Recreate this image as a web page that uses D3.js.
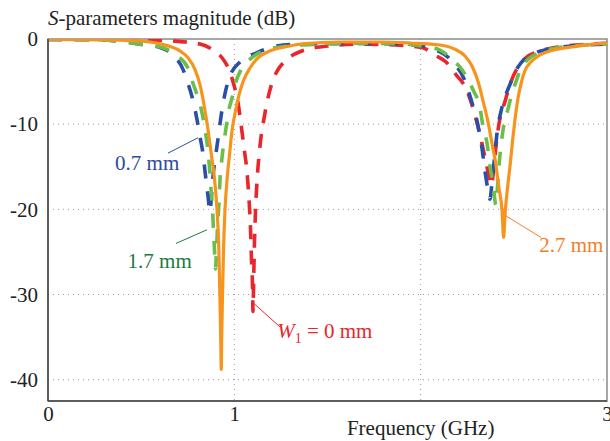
<!DOCTYPE html>
<html>
<head>
<meta charset="utf-8">
<script src="https://cdn.jsdelivr.net/npm/d3@7"></script>
<style>
body { margin: 0; background: #fff; }
text { font-family: "Liberation Serif", "Times New Roman", serif; }
</style>
</head>
<body>
<script>
var w = 610, h = 441;

// frequency (GHz) / magnitude (dB)
var redF  = [0, 0.279, 0.494, 0.682, 0.816, 0.886, 0.934, 0.971, 0.998, 1.020, 1.036, 1.052, 1.068, 1.079, 1.087, 1.092, 1.098, 1.100, 1.104, 1.108, 1.114, 1.124, 1.138, 1.162, 1.191, 1.224, 1.267, 1.352, 1.513, 1.675, 1.862, 2.007, 2.077, 2.136, 2.190, 2.243, 2.286, 2.324, 2.351, 2.370, 2.380, 2.391, 2.407, 2.426, 2.453, 2.485, 2.522, 2.565, 2.641, 2.748, 2.909, 3.0];
var redDb = [-0.05, -0.05, -0.1, -0.25, -0.6, -1.3, -2.2, -3.6, -5.4, -7.5, -10, -12.8, -15.6, -18.9, -22.4, -25.9, -29.4, -32, -28, -24, -20, -16, -12.5, -9, -6, -4, -2.7, -1.5, -0.8, -0.6, -0.7, -1.0, -1.9, -2.7, -4.2, -5.8, -8.5, -11.8, -14.5, -16.5, -17.2, -15.5, -12, -9.3, -7.3, -5, -3.3, -2.2, -1.4, -0.9, -0.6, -0.5];

var blueF  = [0, 0.279, 0.413, 0.494, 0.601, 0.671, 0.725, 0.751, 0.778, 0.800, 0.816, 0.832, 0.845, 0.859, 0.869, 0.877, 0.886, 0.899, 0.912, 0.934, 0.952, 0.974, 1.030, 1.122, 1.261, 1.352, 1.621, 1.889, 2.007, 2.077, 2.104, 2.168, 2.233, 2.276, 2.308, 2.329, 2.345, 2.362, 2.372, 2.383, 2.396, 2.410, 2.431, 2.458, 2.490, 2.522, 2.565, 2.619, 2.721, 2.855, 3.0];
var blueDb = [-0.05, -0.1, -0.35, -0.6, -1.0, -1.9, -3.6, -5.2, -7.2, -9.5, -11.5, -13.5, -16, -18.5, -20.3, -18.5, -16, -13.8, -11.8, -8.3, -6.2, -4.5, -2.7, -1.6, -0.7, -0.6, -0.53, -0.6, -0.8, -1.3, -1.5, -2.6, -4.7, -7.5, -10.2, -12.8, -15.5, -17.8, -18.8, -16.8, -14, -11, -8.5, -6.5, -4.8, -3.3, -2.2, -1.6, -1.05, -0.75, -0.6];

var greenF  = [0, 0.279, 0.413, 0.494, 0.612, 0.687, 0.751, 0.778, 0.805, 0.827, 0.843, 0.856, 0.867, 0.875, 0.883, 0.888, 0.894, 0.899, 0.904, 0.910, 0.918, 0.923, 0.931, 0.945, 0.955, 0.969, 0.988, 1.009, 1.036, 1.100, 1.170, 1.299, 1.460, 1.621, 1.889, 2.023, 2.104, 2.168, 2.222, 2.257, 2.286, 2.316, 2.335, 2.356, 2.372, 2.388, 2.404, 2.412, 2.420, 2.434, 2.447, 2.469, 2.485, 2.512, 2.539, 2.571, 2.624, 2.721, 2.855, 3.0];
var greenDb = [-0.05, -0.1, -0.35, -0.6, -1.0, -1.9, -3.4, -5.2, -6.9, -8.7, -10.7, -12.6, -15.2, -17.7, -20, -22.4, -25, -27, -25, -22, -19, -16.5, -14.5, -12, -10.5, -8.5, -6.9, -5.0, -3.6, -2.1, -1.3, -0.8, -0.6, -0.5, -0.55, -0.9, -1.3, -2.4, -3.6, -4.9, -6.2, -7.8, -10.3, -12.2, -14.9, -17, -19.5, -17.5, -15, -12, -10, -8.2, -6.8, -5, -3.4, -2.5, -1.7, -1.1, -0.75, -0.6];

var orangeF  = [0, 0.279, 0.440, 0.547, 0.655, 0.708, 0.751, 0.789, 0.816, 0.837, 0.859, 0.877, 0.894, 0.907, 0.917, 0.923, 0.927, 0.930, 0.932, 0.936, 0.942, 0.950, 0.961, 0.974, 0.988, 1.004, 1.025, 1.047, 1.084, 1.127, 1.181, 1.283, 1.379, 1.567, 1.782, 1.943, 2.104, 2.184, 2.238, 2.276, 2.308, 2.335, 2.362, 2.383, 2.402, 2.420, 2.437, 2.445, 2.453, 2.466, 2.480, 2.493, 2.506, 2.522, 2.539, 2.560, 2.592, 2.624, 2.694, 2.802, 2.909, 3.0];
var orangeDb = [-0.05, -0.1, -0.18, -0.35, -0.88, -1.4, -2.2, -3.6, -5.4, -7.7, -10.7, -13.6, -16.5, -20, -24.7, -30.6, -35.3, -38.8, -35.3, -30.6, -24.7, -20, -16.5, -13.6, -10.7, -8.7, -6.6, -5, -3.4, -2.2, -1.5, -0.88, -0.53, -0.35, -0.35, -0.47, -0.7, -1.2, -2.0, -3.2, -5, -7.3, -9.8, -12.3, -14.5, -17.5, -20.2, -23.3, -20.5, -17.5, -14.8, -12, -9.5, -7, -5.2, -3.7, -2.7, -2.1, -1.4, -0.95, -0.65, -0.45];

var xTicks = [0, 1, 3];
var yTicks = [0, -10, -20, -30, -40];
var gridX = [1, 2];
var gridY = [-10, -20, -30, -40];

var series = [
  { name: "red",    f: redF,    db: redDb,    color: "#e8262b", dash: "14,11", width: 3.6 },
  { name: "blue",   f: blueF,   db: blueDb,   color: "#2b4fa6", dash: "14,13", width: 3.6 },
  { name: "green",  f: greenF,  db: greenDb,  color: "#6abf4b", dash: "14,13", width: 3.6 },
  { name: "orange", f: orangeF, db: orangeDb, color: "#f7941d", dash: null,    width: 3.2 }
];

var x = d3.scaleLinear().domain([0, 3]).range([48, 607]);
var y = d3.scaleLinear().domain([-42.5, 0]).range([401, 39]);

var svg = d3.select("body").append("svg")
    .attr("width", w)
    .attr("height", h);

svg.append("defs").append("clipPath").attr("id", "plotclip")
  .append("rect")
    .attr("x", x(0)).attr("y", y(0))
    .attr("width", x(3) - x(0)).attr("height", y(-42.5) - y(0));

// grid
svg.append("g").selectAll("line").data(gridX).enter().append("line")
    .attr("x1", function(d){ return x(d); }).attr("x2", function(d){ return x(d); })
    .attr("y1", y(0)).attr("y2", y(-42.5))
    .attr("stroke", "#9a9a9a").attr("stroke-width", 1).attr("stroke-dasharray", "1,4");
svg.append("g").selectAll("line").data(gridY).enter().append("line")
    .attr("x1", x(0)).attr("x2", x(3))
    .attr("y1", function(d){ return y(d); }).attr("y2", function(d){ return y(d); })
    .attr("stroke", "#9a9a9a").attr("stroke-width", 1).attr("stroke-dasharray", "1,4");

// frame
svg.append("rect")
    .attr("x", x(0)).attr("y", y(0))
    .attr("width", x(3) - x(0)).attr("height", y(-42.5) - y(0))
    .attr("fill", "none").attr("stroke", "#8a8a8a").attr("stroke-width", 1.5);

// curves
var line = d3.line()
    .x(function(d){ return x(d[0]); })
    .y(function(d){ return y(d[1]); })
    .curve(d3.curveMonotoneX);

var curves = svg.append("g").attr("clip-path", "url(#plotclip)");
series.forEach(function(s){
  var pts = s.f.map(function(f, i){ return [f, s.db[i]]; });
  curves.append("path")
      .datum(pts)
      .attr("d", line)
      .attr("fill", "none")
      .attr("stroke", s.color)
      .attr("stroke-width", s.width)
      .attr("stroke-dasharray", s.dash)
      .attr("stroke-linejoin", "round");
});

// left and bottom axis lines
svg.append("line").attr("x1", x(0)).attr("x2", x(0)).attr("y1", y(0)).attr("y2", y(-42.5))
    .attr("stroke", "#444").attr("stroke-width", 1.5);
svg.append("line").attr("x1", x(0)).attr("x2", x(3)).attr("y1", y(-42.5)).attr("y2", y(-42.5))
    .attr("stroke", "#444").attr("stroke-width", 1.5);

// tick labels (plain hyphen for minus, as in the original)
var xAxis = svg.append("g")
    .attr("transform", "translate(0," + y(-42.5) + ")")
    .call(d3.axisBottom(x).tickValues(xTicks).tickSize(0).tickPadding(5).tickFormat(function(d){ return String(d); }));
var yAxis = svg.append("g")
    .attr("transform", "translate(" + x(0) + ",0)")
    .call(d3.axisLeft(y).tickValues(yTicks).tickSize(0).tickPadding(10).tickFormat(function(d){ return String(d); }));
[xAxis, yAxis].forEach(function(a){
  a.select(".domain").remove();
  a.selectAll("text")
      .attr("font-family", "Liberation Serif, Times New Roman, serif")
      .attr("font-size", 21)
      .attr("fill", "#222");
});

// titles
var title = svg.append("text")
    .attr("x", 48).attr("y", 25)
    .attr("font-size", 21).attr("fill", "#222");
title.append("tspan").attr("font-style", "italic").text("S");
title.append("tspan").text("-parameters magnitude (dB)");

svg.append("text")
    .attr("x", x(2)).attr("y", 435)
    .attr("text-anchor", "middle")
    .attr("font-size", 21).attr("fill", "#222")
    .text("Frequency (GHz)");

// annotations: [freq, dB] of leader ends, label anchor
function leader(p0, p1, color) {
  svg.append("line")
      .attr("x1", x(p0[0])).attr("y1", y(p0[1]))
      .attr("x2", x(p1[0])).attr("y2", y(p1[1]))
      .attr("stroke", color).attr("stroke-width", 1);
}
leader([0.805, -11.6], [0.644, -13.4], "#2b4fa6");
leader([0.853, -22.4], [0.687, -24.0], "#1b7a3e");
leader([1.102, -31.0], [1.245, -33.8], "#e8262b");
leader([2.453, -20.7], [2.646, -23.3], "#f07f2c");

svg.append("text").attr("x", x(0.360)).attr("y", y(-15.4))
    .attr("font-size", 21).attr("fill", "#2e4a9e").text("0.7 mm");
svg.append("text").attr("x", x(0.427)).attr("y", y(-26.9))
    .attr("font-size", 21).attr("fill", "#1b7a3e").text("1.7 mm");
svg.append("text").attr("x", x(2.636)).attr("y", y(-25.0))
    .attr("font-size", 21).attr("fill", "#f07f2c").text("2.7 mm");

var wl = svg.append("text").attr("x", x(1.230)).attr("y", y(-35.1))
    .attr("font-size", 21).attr("fill", "#e8262b");
wl.append("tspan").attr("font-style", "italic").text("W");
wl.append("tspan").attr("font-size", 14).attr("dy", 5).text("1");
wl.append("tspan").attr("dy", -5).text(" = 0 mm");
</script>
</body>
</html>
